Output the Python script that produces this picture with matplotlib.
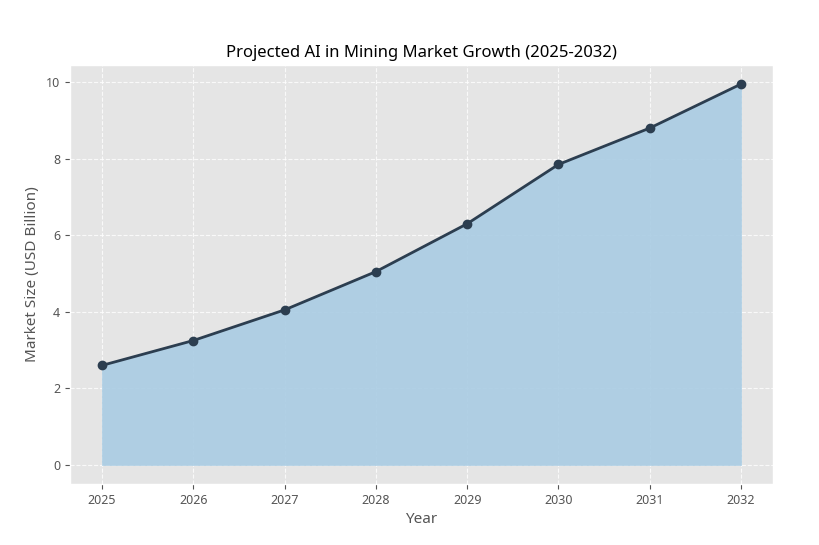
import matplotlib
matplotlib.use("Agg")
import matplotlib.pyplot as plt

years = [2025, 2026, 2027, 2028, 2029, 2030, 2031, 2032]
market = [2.6, 3.25, 4.05, 5.05, 6.3, 7.85, 8.8, 9.95]

plt.style.use("ggplot")
plt.rcParams['font.family'] = ['Noto Sans', 'DejaVu Sans']

fig = plt.figure(figsize=(8.2, 5.45), dpi=100)
ax = fig.add_axes([70/820, 1-484/545, 703/820, 419/545])
ax.fill_between(years, market, 0, color='#a9cce3', alpha=0.9, zorder=2)
ax.plot(years, market, color='#2c3e50', lw=2, marker='o', ms=6, zorder=3)
ax.grid(True, color='white', linestyle='--', linewidth=0.8, alpha=0.8)
ax.set_axisbelow(True)
ax.set_title('Projected AI in Mining Market Growth (2025-2032)', fontsize=12, fontweight='bold', color='black')
ax.set_xlabel('Year', fontsize=11, color='#555555')
ax.set_ylabel('Market Size (USD Billion)', fontsize=11, color='#555555')
ax.set_xticks(years)
ax.set_yticks([0, 2, 4, 6, 8, 10])
ax.tick_params(labelsize=9, colors='#555555')
fig.savefig('out.png', dpi=100)
